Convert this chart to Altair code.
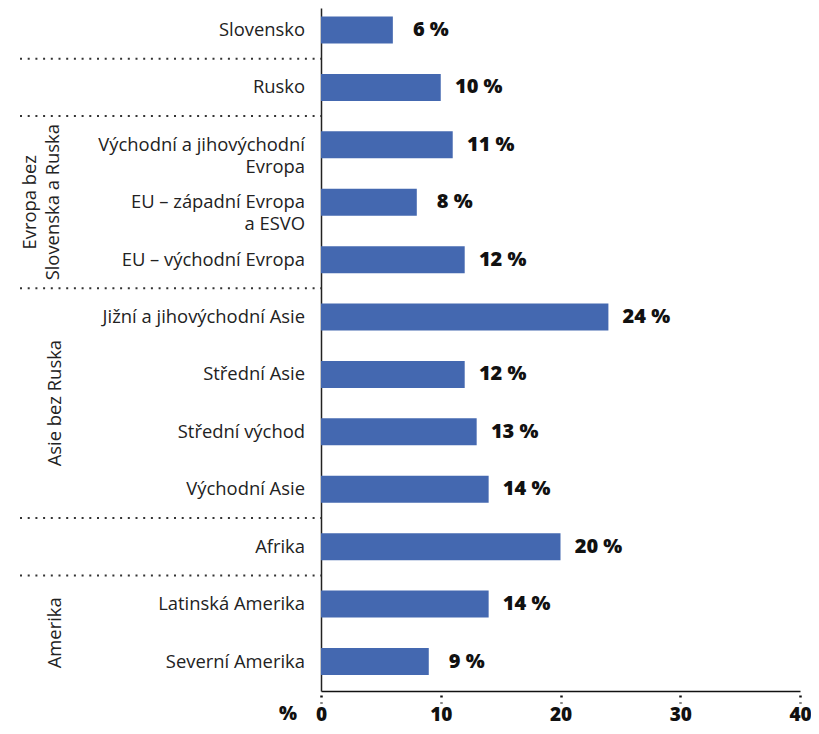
import altair as alt
import pandas as pd

categories = [
    "Slovensko",
    "Rusko",
    "Východní a jihovýchodní\nEvropa",
    "EU – západní Evropa\na ESVO",
    "EU – východní Evropa",
    "Jižní a jihovýchodní Asie",
    "Střední Asie",
    "Střední východ",
    "Východní Asie",
    "Afrika",
    "Latinská Amerika",
    "Severní Amerika",
]
values = [6, 10, 11, 8, 12, 24, 12, 13, 14, 20, 14, 9]
value_labels = [f"{v} %" for v in values]

# separators drawn below these rows
separator_after = ["Slovensko", "Rusko", "EU – východní Evropa", "Východní Asie", "Afrika"]

# group labels: odd-sized groups anchored on middle row, even-sized between two rows
group_odd_names = ["Evropa bez\nSlovenska a Ruska"]
group_odd_anchor = ["EU – západní Evropa\na ESVO"]
group_even_names = ["Asie bez Ruska", "Amerika"]
group_even_anchor = ["Střední Asie", "Latinská Amerika"]

x_ticks = [0, 10, 20, 30, 40]

W, H = 479, 683
STEP_HALF_GAP = 15.2

df = pd.DataFrame({"cat": categories, "value": values, "label": value_labels})
sep_df = pd.DataFrame({"cat": separator_after})
godd = pd.DataFrame({"cat": group_odd_anchor, "name": group_odd_names})
geven = pd.DataFrame({"cat": group_even_anchor, "name": group_even_names})

yscale = alt.Scale(domain=categories, paddingInner=0.5297, paddingOuter=0.2134, align=0.347)
FONT = "Open Sans"

def Y(**kw):
    return alt.Y("cat:N", scale=yscale, sort=categories,
                 axis=alt.Axis(labels=False, ticks=False, title=None, domainColor="#222",
                               domainWidth=1.5, grid=False), **kw)

xscale = alt.Scale(domain=[0, 40], nice=False)

bars = alt.Chart(df).mark_bar(color="#4468B0").encode(
    x=alt.X("value:Q", scale=xscale,
            axis=alt.Axis(values=x_ticks, title=None, grid=False, domainColor="#111",
                          domainWidth=1.5, tickColor="#111", tickSize=12, tickWidth=2.5,
                          tickDash=[2, 5], tickDashOffset=3, labelPadding=17,
                          labelBaseline="alphabetic", labelFlush=False,
                          labelFont=FONT, labelFontSize=19, labelFontWeight=800,
                          labelColor="#111")),
    y=Y(),
)

vals = alt.Chart(df).mark_text(font=FONT, fontSize=20, fontWeight=800, color="#111",
                               align="center", baseline="middle", dx=38).encode(
    x=alt.X("value:Q", scale=xscale), y=Y(), text="label:N")

cat_text = alt.Chart(df).mark_text(font=FONT, fontSize=18.4, color="#222", align="right",
                                   baseline="middle", lineBreak="\n", lineHeight=22).encode(
    x=alt.value(-16), y=Y(), text="cat:N")

seps = alt.Chart(sep_df).mark_rule(color="#333", strokeWidth=2, strokeDash=[2, 5.7],
                                   yOffset=STEP_HALF_GAP).encode(
    x=alt.value(-301), x2=alt.value(0), y=Y(bandPosition=1))

g1 = alt.Chart(godd).mark_text(font=FONT, fontSize=18.4, color="#222", angle=270,
                               align="center", baseline="alphabetic", lineBreak="\n",
                               lineHeight=23).encode(
    x=alt.value(-285), y=Y(), text="name:N")

g2 = alt.Chart(geven).mark_text(font=FONT, fontSize=18.4, color="#222", angle=270,
                                align="center", baseline="alphabetic", lineBreak="\n",
                                lineHeight=23, yOffset=STEP_HALF_GAP).encode(
    x=alt.value(-260), y=Y(bandPosition=1), text="name:N")

pct = alt.Chart(pd.DataFrame({"t": ["%"]})).mark_text(
    font=FONT, fontSize=19, fontWeight=800, color="#111", align="center",
    baseline="alphabetic").encode(x=alt.value(-33), y=alt.value(H + 29), text="t:N")

chart = alt.layer(seps, bars, vals, cat_text, g1, g2, pct).properties(
    width=W, height=H,
    autosize=alt.AutoSizeParams(type="none"),
    padding={"left": 313, "top": 0, "right": 11, "bottom": 35},
).configure_view(stroke=None)

chart.save("out.html", embed_options={"renderer": "svg", "actions": False})
